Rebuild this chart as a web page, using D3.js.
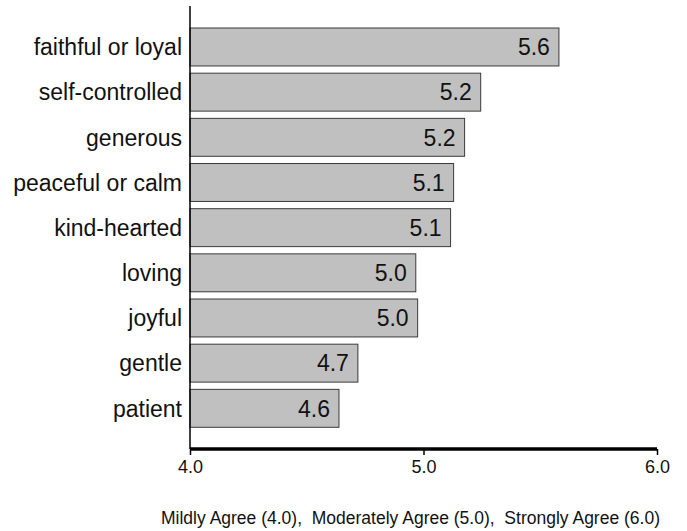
<!DOCTYPE html>
<html>
<head>
<meta charset="utf-8">
<script src="https://cdn.jsdelivr.net/npm/d3@7"></script>
<style>
  html, body { margin: 0; padding: 0; background: #fff; }
  svg { display: block; font-family: "Liberation Sans", Arial, sans-serif; }
</style>
</head>
<body>
<svg id="chart" width="687" height="531"></svg>
<script>
// Mean agreement rating for each trait
const traits = ["faithful or loyal", "self-controlled", "generous", "peaceful or calm",
                "kind-hearted", "loving", "joyful", "gentle", "patient"];
const ratings = [5.58, 5.245, 5.176, 5.129, 5.116, 4.967, 4.975, 4.719, 4.638];
const tickValues = [4.0, 5.0, 6.0];
const scaleNote = "Mildly Agree (4.0),  Moderately Agree (5.0),  Strongly Agree (6.0)";

const data = traits.map((t, i) => ({ trait: t, value: ratings[i] }));

const svg = d3.select("#chart");

const x = d3.scaleLinear().domain([4.0, 6.0]).range([190, 657]);
const y = d3.scaleBand().domain(traits).range([24.4, 430.9])
  .paddingInner(0.16).paddingOuter(0.08);

// Bars
svg.append("g").selectAll("rect").data(data).join("rect")
  .attr("x", x(4.0))
  .attr("y", d => y(d.trait))
  .attr("width", d => x(d.value) - x(4.0))
  .attr("height", y.bandwidth())
  .attr("fill", "#c0c0c0")
  .attr("stroke", "#3a3a3a")
  .attr("stroke-width", 1);

// Value labels inside the bar ends
svg.append("g").selectAll("text").data(data).join("text")
  .attr("x", d => x(d.value) - 9)
  .attr("y", d => y(d.trait) + y.bandwidth() / 2)
  .attr("dy", "0.36em")
  .attr("text-anchor", "end")
  .attr("font-size", 23)
  .attr("fill", "#111")
  .text(d => d3.format(".1f")(d.value));

// Category labels
svg.append("g").selectAll("text").data(data).join("text")
  .attr("x", 182)
  .attr("y", d => y(d.trait) + y.bandwidth() / 2)
  .attr("dy", "0.36em")
  .attr("text-anchor", "end")
  .attr("font-size", 23)
  .attr("fill", "#111")
  .text(d => d.trait);

// Vertical axis line
svg.append("line")
  .attr("x1", x(4.0)).attr("x2", x(4.0))
  .attr("y1", 6).attr("y2", 449)
  .attr("stroke", "#000").attr("stroke-width", 1.5);

// Bottom axis
const xAxis = d3.axisBottom(x).tickValues(tickValues)
  .tickFormat(d3.format(".1f")).tickSize(6).tickPadding(5);
const gx = svg.append("g").attr("transform", "translate(0,449)").call(xAxis);
gx.select(".domain").attr("stroke", "#000").attr("stroke-width", 3.5)
  .attr("d", `M${x(4.0)},0H${x(6.0)}`);
gx.selectAll(".tick line").attr("stroke", "#000").attr("stroke-width", 1.5);
gx.selectAll(".tick text")
  .attr("font-family", "Liberation Sans, Arial, sans-serif")
  .attr("font-size", 18).attr("fill", "#111");

// Scale note
svg.append("text")
  .attr("x", 660)
  .attr("y", 524)
  .attr("text-anchor", "end")
  .attr("font-size", 17.5)
  .attr("fill", "#111")
  .style("white-space", "pre")
  .text(scaleNote);
</script>
</body>
</html>
